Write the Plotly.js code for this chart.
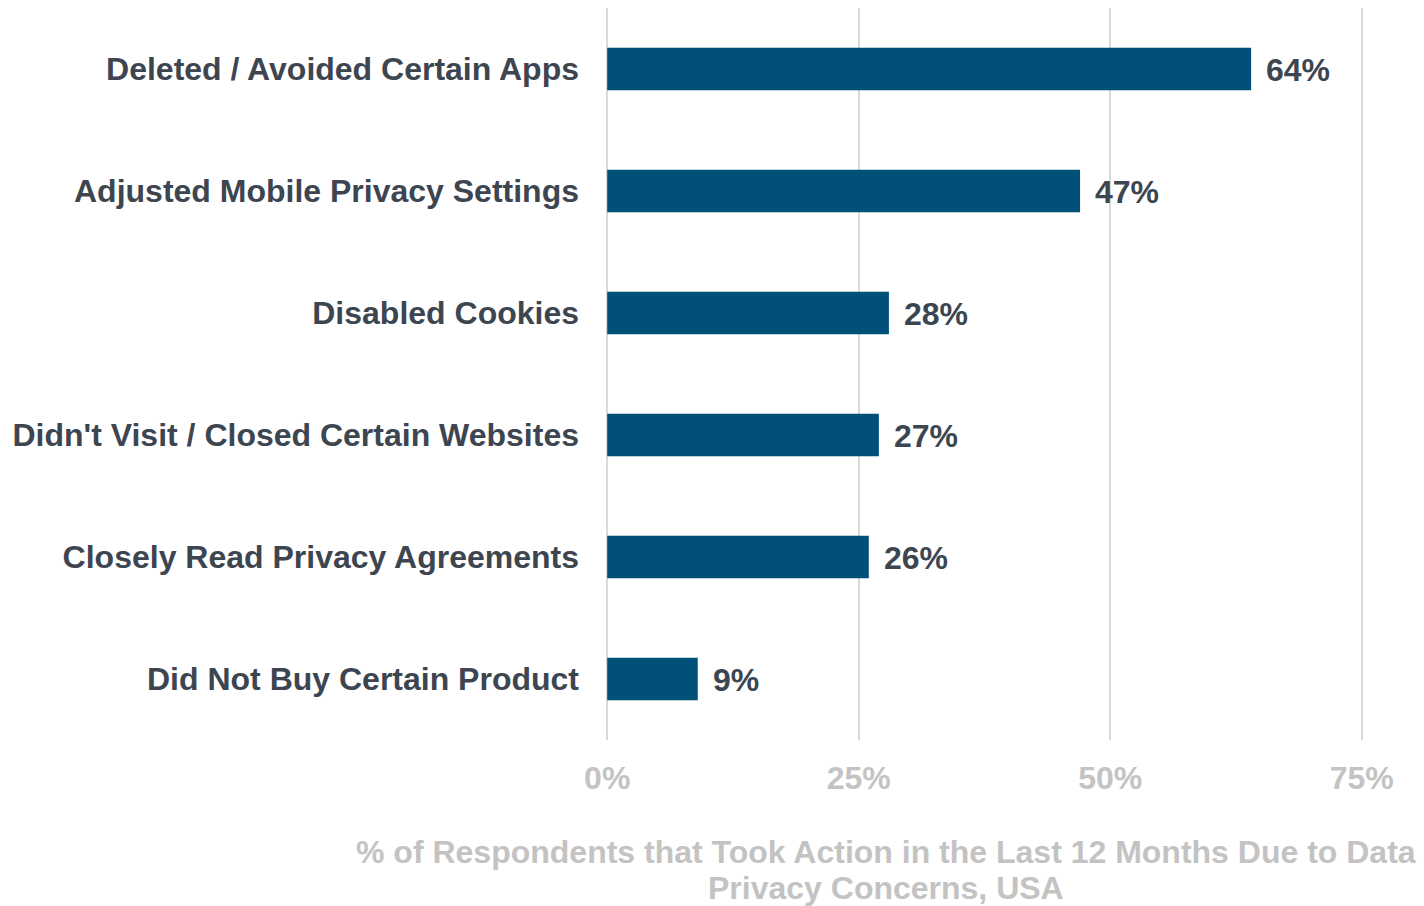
<!DOCTYPE html>
<html>
<head>
<meta charset="utf-8">
<script src="https://cdn.plot.ly/plotly-3.0.1.min.js"></script>
<style>html,body{margin:0;padding:0;background:#fff;}#chart{width:1424px;height:906px;}</style>
</head>
<body>
<div id="chart"></div>
<script>
const categories = [
  "Deleted / Avoided Certain Apps",
  "Adjusted Mobile Privacy Settings",
  "Disabled Cookies",
  "Didn't Visit / Closed Certain Websites",
  "Closely Read Privacy Agreements",
  "Did Not Buy Certain Product"
];
const values = [64, 47, 28, 27, 26, 9];
const tickValues = [0, 25, 50, 75];
const tickLabels = ["0%", "25%", "50%", "75%"];
const axisTitleLines = [
  "% of Respondents that Took Action in the Last 12 Months Due to Data",
  "Privacy Concerns, USA"
];

const font = "Liberation Sans, Arial, sans-serif";
const dark = "#3d4650";
const light = "#c3c3c3";

const trace = {
  type: "bar",
  orientation: "h",
  x: values,
  y: categories,
  width: 0.35,
  marker: {color: "#00507a"},
  hoverinfo: "none"
};

const annotations = values.map((v, i) => ({
  x: v, y: categories[i], xref: "x", yref: "y",
  text: v + "%", showarrow: false, xanchor: "left", yanchor: "middle",
  xshift: 13, yshift: -1,
  font: {family: font, size: 32, color: dark, weight: "bold"}
}));
axisTitleLines.forEach((line, i) => {
  annotations.push({
    x: 0.37, y: 0, xref: "paper", yref: "paper",
    yshift: -112 - 36 * i, xanchor: "center", yanchor: "middle",
    text: line, showarrow: false,
    font: {family: font, size: 32, color: light, weight: "bold"}
  });
});

const layout = {
  width: 1424, height: 906,
  margin: {l: 606, r: 61, t: 8, b: 166},
  paper_bgcolor: "#fff", plot_bgcolor: "#fff",
  showlegend: false,
  bargap: 0.65,
  xaxis: {
    range: [-0.12, 75.12], tickvals: tickValues, ticktext: tickLabels,
    showgrid: true, gridcolor: "#d9d9d9", gridwidth: 2,
    zeroline: false, showline: false, ticks: "",
    ticklabelstandoff: 16,
    tickfont: {family: font, size: 32, color: light, weight: "bold"}
  },
  yaxis: {
    autorange: "reversed", showgrid: false, zeroline: false, showline: false,
    ticks: "", ticklabelstandoff: 26,
    tickfont: {family: font, size: 32, color: dark, weight: "bold"}
  },
  annotations: annotations
};

Plotly.newPlot("chart", [trace], layout, {displayModeBar: false, staticPlot: true});
</script>
</body>
</html>
